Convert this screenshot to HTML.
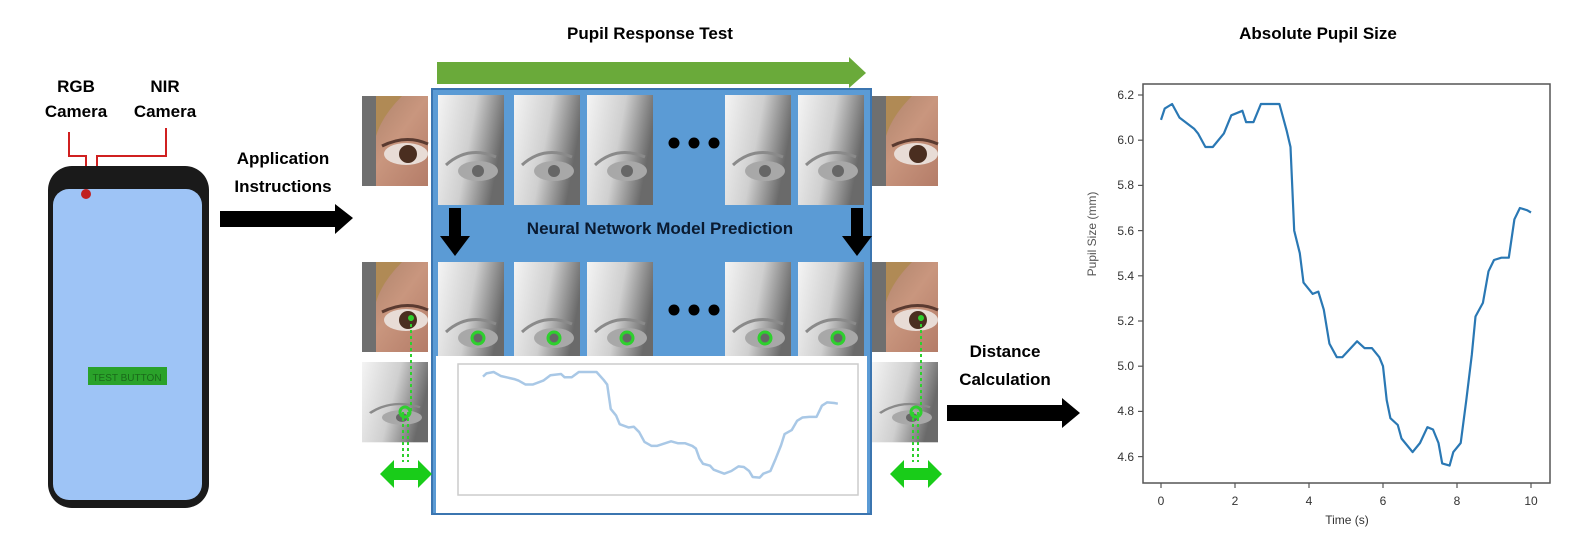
<!DOCTYPE html>
<html><head><meta charset="utf-8"><style>
body{margin:0;background:#fff}
svg{display:block}
text{font-family:"Liberation Sans",sans-serif}
</style></head><body>
<svg width="1586" height="558" viewBox="0 0 1586 558" xmlns="http://www.w3.org/2000/svg">
<defs>
<linearGradient id="nir" x1="0" y1="0" x2="1" y2="0.3"><stop offset="0" stop-color="#f4f4f4"/><stop offset="0.55" stop-color="#cfcfcf"/><stop offset="1" stop-color="#6a6a6a"/></linearGradient>
<linearGradient id="skin" x1="0" y1="0" x2="1" y2="1"><stop offset="0" stop-color="#a88068"/><stop offset="0.5" stop-color="#c9967e"/><stop offset="1" stop-color="#b47c68"/></linearGradient>
<g id="nirimg"><rect width="66" height="110" fill="url(#nir)"/><path d="M8 70 Q30 50 58 62" stroke="#8a8a8a" stroke-width="3" fill="none"/><ellipse cx="40" cy="76" rx="20" ry="10" fill="#a8a8a8"/><circle cx="40" cy="76" r="6" fill="#666"/></g>
<g id="rgbimg"><rect width="66" height="90" fill="url(#skin)"/><rect width="14" height="90" fill="#6f6f6f"/><path d="M14 0 L40 0 Q20 20 14 40Z" fill="#b08a55"/><ellipse cx="44" cy="58" rx="22" ry="11" fill="#e8dcd6"/><circle cx="46" cy="58" r="9" fill="#4a2e20"/><path d="M20 50 Q44 38 66 48" stroke="#5a3a30" stroke-width="3" fill="none"/></g>
<g id="dots"><circle cx="0" cy="0" r="5.5" fill="#000"/><circle cx="20" cy="0" r="5.5" fill="#000"/><circle cx="40" cy="0" r="5.5" fill="#000"/></g>
<g id="garrow"><path d="M0 0 L14 -14 L14 -6 L38 -6 L38 -14 L52 0 L38 14 L38 6 L14 6 L14 14Z" fill="#19cc19"/></g>
<path id="curve" d="M1161,119.9 L1164.7,108.6 L1172.1,104 L1179.5,117.6 L1194.3,128.9 L1198,133.4 L1205.4,147 L1212.8,147 L1223.9,133.4 L1231.3,115.3 L1242.4,110.8 L1246.1,122.1 L1253.5,122.1 L1260.9,104 L1279.4,104 L1286.8,131.2 L1290.5,147 L1294.2,230.6 L1299.8,253.2 L1303.5,282.6 L1312.7,293.9 L1318.3,291.6 L1323.8,309.7 L1329.4,343.6 L1336.8,357.2 L1342.3,357.2 L1357.1,341.3 L1364.5,348.1 L1371.9,348.1 L1379.3,357.2 L1383,366.2 L1386.7,400.1 L1390.4,418.2 L1397.8,425 L1401.5,438.5 L1412.6,452.1 L1420,443 L1427.4,427.2 L1433,429.5 L1438.5,443 L1442.2,463.4 L1449.6,465.6 L1453.3,452.1 L1460.7,443 L1466.3,400.1 L1471.8,354.9 L1475.5,316.5 L1482.9,302.9 L1488.5,271.3 L1494,260 L1501.4,257.7 L1508.8,257.7 L1514.4,219.3 L1519.9,208 L1527.3,210.3 L1531,212.5" fill="none" stroke-linejoin="round" vector-effect="non-scaling-stroke"/>
</defs>

<!-- Phone -->
<text x="76" y="92" font-size="17" font-weight="bold" text-anchor="middle">RGB</text>
<text x="76" y="117" font-size="17" font-weight="bold" text-anchor="middle">Camera</text>
<text x="165" y="92" font-size="17" font-weight="bold" text-anchor="middle">NIR</text>
<text x="165" y="117" font-size="17" font-weight="bold" text-anchor="middle">Camera</text>
<path d="M69 132 V156 H86 V180 M97 180 V156 H166 V128" stroke="#d02020" stroke-width="2" fill="none"/>
<rect x="48" y="166" width="161" height="342" rx="24" fill="#1a1a1a"/>
<rect x="53" y="189" width="149" height="311" rx="16" fill="#9ec4f6"/>
<circle cx="86" cy="194" r="5" fill="#c02020"/>
<rect x="88" y="367" width="79" height="18" fill="#2aa22a"/>
<text x="127" y="381" font-size="10" fill="#1a6a1a" text-anchor="middle">TEST BUTTON</text>

<!-- Application instructions -->
<text x="283" y="164" font-size="17" font-weight="bold" text-anchor="middle">Application</text>
<text x="283" y="192" font-size="17" font-weight="bold" text-anchor="middle">Instructions</text>
<path d="M220 211 H335 V204 L353 218 L335 234 V227 H220Z" fill="#000"/>

<!-- Center panel -->
<text x="650" y="39" font-size="17" font-weight="bold" text-anchor="middle">Pupil Response Test</text>
<path d="M437 62 H849 V57 L866 73 L849 88 V84 H437Z" fill="#6aaa3a"/>
<rect x="432" y="89" width="439" height="425" fill="#5b9bd5" stroke="#3b75b0" stroke-width="2"/>
<use href="#nirimg" x="438" y="95"/><use href="#nirimg" x="514" y="95"/><use href="#nirimg" x="587" y="95"/>
<use href="#nirimg" x="725" y="95"/><use href="#nirimg" x="798" y="95"/>
<use href="#dots" x="674" y="143"/>
<use href="#nirimg" x="438" y="262"/><use href="#nirimg" x="514" y="262"/><use href="#nirimg" x="587" y="262"/>
<use href="#nirimg" x="725" y="262"/><use href="#nirimg" x="798" y="262"/>
<use href="#dots" x="674" y="310"/>
<g fill="none" stroke="#2ed02e" stroke-width="3"><circle cx="478" cy="338" r="6"/><circle cx="554" cy="338" r="6"/><circle cx="627" cy="338" r="6"/><circle cx="765" cy="338" r="6"/><circle cx="838" cy="338" r="6"/></g>
<path d="M449 208 H461 V236 H470 L455 256 L440 236 H449Z" fill="#000"/>
<path d="M851 208 H863 V236 H872 L857 256 L842 236 H851Z" fill="#000"/>
<text x="660" y="234" font-size="17" font-weight="bold" text-anchor="middle" fill="#0a1a30">Neural Network Model Prediction</text>
<rect x="436" y="356" width="431" height="157" fill="#fff"/>
<rect x="458" y="364" width="400" height="131" fill="none" stroke="#ccc" stroke-width="1.5"/>
<g transform="translate(483,372) scale(0.959,0.292) translate(-1161,-104)"><use href="#curve" stroke="#a9c8e6" stroke-width="2.5"/></g>

<!-- left side images -->
<use href="#rgbimg" x="362" y="96"/>
<use href="#rgbimg" x="362" y="262"/>
<use href="#nirimg" x="362" y="362" transform="translate(362,362) scale(1,0.73) translate(-362,-362)"/>
<circle cx="411" cy="318" r="3" fill="#2ed02e"/>
<circle cx="405" cy="412" r="5" fill="none" stroke="#2ed02e" stroke-width="3"/>
<path d="M411 318 V412 M403 412 V462 M408 412 V462" stroke="#2ed02e" stroke-width="2" stroke-dasharray="3,3"/>
<use href="#garrow" x="380" y="474"/>
<!-- right side images -->
<use href="#rgbimg" x="872" y="96"/>
<use href="#rgbimg" x="872" y="262"/>
<use href="#nirimg" x="872" y="362" transform="translate(872,362) scale(1,0.73) translate(-872,-362)"/>
<circle cx="921" cy="318" r="3" fill="#2ed02e"/>
<circle cx="916" cy="412" r="5" fill="none" stroke="#2ed02e" stroke-width="3"/>
<path d="M921 318 V412 M913 412 V462 M918 412 V462" stroke="#2ed02e" stroke-width="2" stroke-dasharray="3,3"/>
<use href="#garrow" x="890" y="474"/>

<!-- Distance calc -->
<text x="1005" y="357" font-size="17" font-weight="bold" text-anchor="middle">Distance</text>
<text x="1005" y="385" font-size="17" font-weight="bold" text-anchor="middle">Calculation</text>
<path d="M947 405 H1062 V398 L1080 413 L1062 428 V421 H947Z" fill="#000"/>

<!-- Chart -->
<text x="1318" y="39" font-size="17" font-weight="bold" text-anchor="middle">Absolute Pupil Size</text>
<rect x="1143" y="84" width="407" height="399" fill="none" stroke="#555" stroke-width="1.5"/>
<g stroke="#555" stroke-width="1.2">
<line x1="1138" y1="95" x2="1143" y2="95"/><line x1="1138" y1="140.2" x2="1143" y2="140.2"/><line x1="1138" y1="185.4" x2="1143" y2="185.4"/><line x1="1138" y1="230.6" x2="1143" y2="230.6"/><line x1="1138" y1="275.8" x2="1143" y2="275.8"/><line x1="1138" y1="321" x2="1143" y2="321"/><line x1="1138" y1="366.2" x2="1143" y2="366.2"/><line x1="1138" y1="411.4" x2="1143" y2="411.4"/><line x1="1138" y1="456.6" x2="1143" y2="456.6"/>
<line x1="1161" y1="483" x2="1161" y2="488"/><line x1="1235" y1="483" x2="1235" y2="488"/><line x1="1309" y1="483" x2="1309" y2="488"/><line x1="1383" y1="483" x2="1383" y2="488"/><line x1="1457" y1="483" x2="1457" y2="488"/><line x1="1531" y1="483" x2="1531" y2="488"/>
</g>
<g font-size="12" fill="#333" text-anchor="end">
<text x="1134" y="99">6.2</text><text x="1134" y="144">6.0</text><text x="1134" y="189">5.8</text><text x="1134" y="235">5.6</text><text x="1134" y="280">5.4</text><text x="1134" y="325">5.2</text><text x="1134" y="370">5.0</text><text x="1134" y="415">4.8</text><text x="1134" y="461">4.6</text>
</g>
<g font-size="12" fill="#333" text-anchor="middle">
<text x="1161" y="505">0</text><text x="1235" y="505">2</text><text x="1309" y="505">4</text><text x="1383" y="505">6</text><text x="1457" y="505">8</text><text x="1531" y="505">10</text>
<text x="1347" y="524">Time (s)</text>
</g>
<text x="0" y="0" font-size="12" fill="#555" text-anchor="middle" transform="translate(1096,234) rotate(-90)">Pupil Size (mm)</text>
<use href="#curve" stroke="#2a78b4" stroke-width="2.2"/>
</svg>
</body></html>
